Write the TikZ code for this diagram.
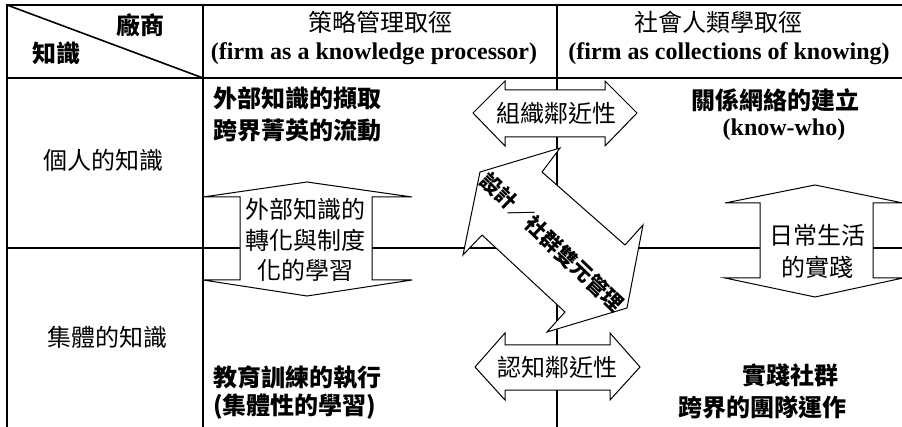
\documentclass[tikz,border=0pt]{standalone}
\usepackage{fontspec}
\setmainfont{Liberation Serif}
\newfontfamily\cjk{Noto Sans CJK TC}
\begin{document}
\begin{tikzpicture}[x=1pt,y=-1pt,
  gridline/.style={line width=2pt},
  arrowshape/.style={draw, fill=white, line width=1pt, line join=miter},
  cj/.style={font=\cjk\fontsize{24}{28}\selectfont, inner sep=0pt},
  cjb/.style={font=\cjk\bfseries\fontsize{24}{28}\selectfont, inner sep=0pt},
  lat/.style={font=\bfseries\fontsize{24}{28}\selectfont, inner sep=0pt}]
\useasboundingbox (0,0) rectangle (902,427);
\clip (0,0) rectangle (902,427);
% table
\draw[gridline] (7,427) -- (7,5) -- (902,5);
\draw[gridline] (7,78) -- (902,78);
\draw[gridline] (7,248) -- (902,248);
\draw[gridline] (203,5) -- (203,427);
\draw[gridline] (557,5) -- (557,427);
\draw[line width=1.6pt] (7,5) -- (203,78);
% header
\node[cjb] (hfirm) at (140,25) {廠商};
\node[cjb] (hknow) at (56,53) {知識};
\node[cj] (hstrat) at (380,22) {策略管理取徑};
\node[lat] (hstratlat) at (374,54) {(firm as a knowledge processor)};
\node[cj] (hsoc) at (718,22) {社會人類學取徑};
\node[lat] (hsoclat) at (729,54) {(firm as collections of knowing)};
% row labels
\node[cj] (rind) at (103,160) {個人的知識};
\node[cj] (rcol) at (107,337) {集體的知識};
% cell texts
\node[cjb, anchor=west] (t1a) at (213,98) {外部知識的擷取};
\node[cjb, anchor=west] (t1b) at (213,130) {跨界菁英的流動};
\node[cjb] (t2a) at (775,100) {關係網絡的建立};
\node[lat] (t2b) at (784,130) {(know-who)};
\node[cjb, anchor=west] (t3a) at (213,377) {教育訓練的執行};
\node[cjb, anchor=west] (t3b) at (213,407) {(集體性的學習)};
\node[cjb] (t4a) at (790,375) {實踐社群};
\node[cjb] (t4b) at (762,407) {跨界的團隊運作};
% horizontal double arrows
\draw[arrowshape] (473,113) -- (505,81) -- (505,90) -- (605,90) -- (605,81) -- (637,113)
  -- (605,146) -- (605,137) -- (505,137) -- (505,146) -- cycle;
\node[cj] (orgprox) at (556,113) {組織鄰近性};
\draw[arrowshape] (475,367) -- (505,333) -- (505,345) -- (610,345) -- (610,333) -- (640,367)
  -- (610,400) -- (610,390) -- (505,390) -- (505,400) -- cycle;
\node[cj] (cogprox) at (557,367) {認知鄰近性};
% vertical double arrows
\draw[arrowshape] (307,182) -- (412,197) -- (372,197) -- (372,280) -- (412,280) -- (307,296)
  -- (203,280) -- (240,280) -- (240,197) -- (203,197) -- cycle;
\node[cj] (lv1) at (305,209) {外部知識的};
\node[cj] (lv2) at (305,240) {轉化與制度};
\node[cj] (lv3) at (305,270) {化的學習};
\draw[arrowshape] (815,185) -- (903,203) -- (873,203) -- (873,278) -- (903,278) -- (815,297)
  -- (725,278) -- (760,278) -- (760,203) -- (725,203) -- cycle;
\node[cj] (rv1) at (817,235) {日常生活};
\node[cj] (rv2) at (817,267) {的實踐};
% diagonal double arrow
\draw[arrowshape] (480,172) -- (560,148) -- (542,172) -- (625,245) -- (643,225) -- (627,308)
  -- (547,332) -- (565,312) -- (482,235) -- (463,255) -- cycle;
\node[font=\cjk\bfseries\fontsize{21}{24}\selectfont, inner sep=0pt, rotate=-44] (diag) at (552,242) {設計／社群雙元管理};
\end{tikzpicture}
\end{document}
